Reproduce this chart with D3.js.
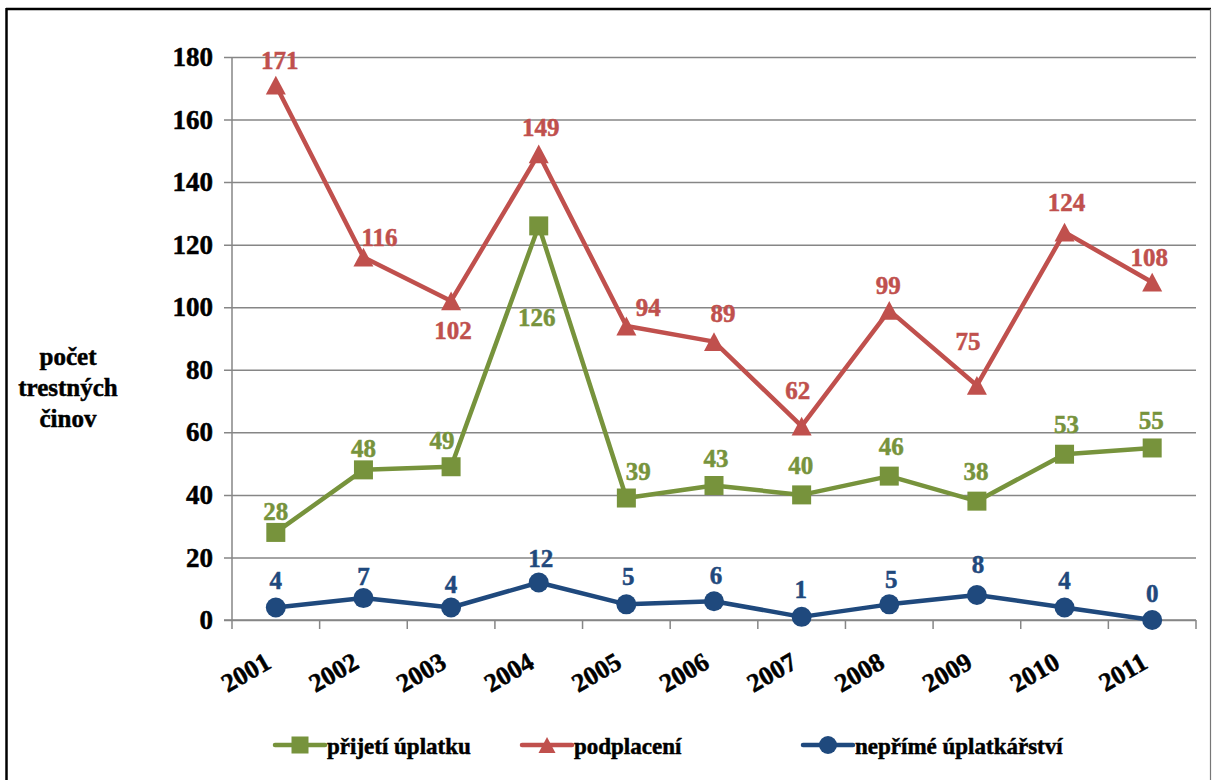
<!DOCTYPE html>
<html lang="cs">
<head>
    <meta charset="utf-8">
    <title>Počet trestných činů</title>
    <style>
        body {
            margin: 0;
            background: #fff;
        }
        text {
            font-family: "Liberation Serif", "Times New Roman", serif;
            font-weight: bold;
            stroke: currentColor;
            stroke-width: 0.5px;
        }
    </style>
</head>
<body>
<svg id="chart"></svg>
<script src="https://cdn.jsdelivr.net/npm/d3@7"></script>
<script>
    // data
    const years = ["2001", "2002", "2003", "2004", "2005", "2006", "2007", "2008", "2009", "2010", "2011"];
    const prijeti = [28, 48, 49, 126, 39, 43, 40, 46, 38, 53, 55];
    const podplaceni = [171, 116, 102, 149, 94, 89, 62, 99, 75, 124, 108];
    const neprime = [4, 7, 4, 12, 5, 6, 1, 5, 8, 4, 0];
    const yTicks = [0, 20, 40, 60, 80, 100, 120, 140, 160, 180];
    const seriesNames = ["přijetí úplatku", "podplacení", "nepřímé úplatkářství"];
    const yTitle = ["počet", "trestných", "činov"];

    // label nudges (label centre relative to point), as placed in the original
    const greenDx = [0, 0, -9, -2, 12, 2, -1, 2, -1, 2, -1];
    const greenDy = [-21, -21, -26, 92, -27, -27, -29, -30, -30, -30, -27];
    const redDx = [4, 16, 2, 2, 22, 9, -4, -1, -9, 2, -3];
    const redDy = [-25, -20, 30, -26, -18, -28, -36, -25, -44, -30, -25];
    const blueDx = [0, 0, 0, 2, 2, 2, -1, 2, 1, 0, 0];
    const blueDy = [-27, -22, -23, -24, -28, -26, -27, -25, -30, -27, -27];

    const W = 1213, H = 780;
    const plot = {left: 232, right: 1196, top: 57, bottom: 620};
    const colors = ["#77933C", "#C0504D", "#1F497D"];
    const gridColor = "#868686";

    const svg = d3.select("#chart").attr("width", W).attr("height", H);

    // frame
    svg.append("line").attr("x1", 6.5).attr("x2", 6.5).attr("y1", 8).attr("y2", H)
        .attr("stroke", "#000").attr("stroke-width", 2.5);
    svg.append("line").attr("x1", 6).attr("x2", 1211).attr("y1", 9).attr("y2", 9)
        .attr("stroke", "#000").attr("stroke-width", 2.5);
    svg.append("line").attr("x1", 1210.5).attr("x2", 1210.5).attr("y1", 9).attr("y2", H)
        .attr("stroke", "#777").attr("stroke-width", 1.2);

    var x = d3.scaleBand().domain(years).range([plot.left, plot.right]);
    var y = d3.scaleLinear().domain([0, 180]).range([plot.bottom, plot.top]);
    const cx = d => x(d) + x.bandwidth() / 2;

    // gridlines + y axis
    var yAxis = d3.axisLeft(y).tickValues(yTicks).tickSize(-(plot.right - plot.left)).tickPadding(19).tickFormat(d3.format("d"));
    var gy = svg.append("g").attr("transform", "translate(" + plot.left + ",0)").call(yAxis);
    gy.select(".domain").remove();
    gy.selectAll(".tick line").attr("x1", -8).attr("stroke", gridColor).attr("stroke-width", 1.5);
    gy.selectAll(".tick text").attr("font-size", 27).attr("fill", "#000").style("color", "#000");
    svg.append("line").attr("x1", plot.left).attr("x2", plot.left).attr("y1", plot.top).attr("y2", plot.bottom)
        .attr("stroke", gridColor).attr("stroke-width", 1.5);

    // x axis: ticks on band edges
    var gx = svg.append("g").attr("transform", "translate(0," + plot.bottom + ")");
    gx.append("line").attr("x1", plot.left - 8).attr("x2", plot.right).attr("stroke", gridColor).attr("stroke-width", 1.5);
    gx.selectAll(".edge").data(years.concat(["end"])).enter().append("line")
        .attr("x1", (d, i) => i < years.length ? x(d) : plot.right)
        .attr("x2", (d, i) => i < years.length ? x(d) : plot.right)
        .attr("y1", 0).attr("y2", 9).attr("stroke", gridColor).attr("stroke-width", 1.5);
    gx.selectAll(".lab").data(years).enter().append("text")
        .attr("transform", d => "translate(" + (cx(d) - 3) + ",47) rotate(-30)")
        .attr("text-anchor", "end").attr("font-size", 26).attr("fill", "#000").style("color", "#000")
        .text(d => d);

    // y title
    svg.append("text").attr("x", 68).attr("y", 365).attr("text-anchor", "middle")
        .attr("font-size", 25).attr("fill", "#000").style("color", "#000")
        .selectAll("tspan").data(yTitle).enter().append("tspan")
        .attr("x", 68).attr("dy", (d, i) => i ? 31 : 0).text(d => d);

    // markers
    function marker(g, kind, color, s) {
        if (kind === "square") {
            g.append("rect").attr("x", -s / 2).attr("y", -s / 2).attr("width", s).attr("height", s).attr("fill", color);
        } else if (kind === "triangle") {
            g.append("path").attr("d", "M0," + (-s * 0.47) + "L" + (s / 2) + "," + (s * 0.47) + "L" + (-s / 2) + "," + (s * 0.47) + "Z").attr("fill", color);
        } else {
            g.append("circle").attr("r", s / 2).attr("fill", color);
        }
    }

    const series = [
        {name: seriesNames[0], values: prijeti, color: colors[0], kind: "square", dx: greenDx, dy: greenDy},
        {name: seriesNames[1], values: podplaceni, color: colors[1], kind: "triangle", dx: redDx, dy: redDy},
        {name: seriesNames[2], values: neprime, color: colors[2], kind: "circle", dx: blueDx, dy: blueDy}
    ];

    var line = d3.line().x((d, i) => cx(years[i])).y(d => y(d));

    series.forEach(function(s) {
        svg.append("path").datum(s.values).attr("d", line).attr("fill", "none")
            .attr("stroke", s.color).attr("stroke-width", 4.5).attr("stroke-linejoin", "round");
        s.values.forEach(function(v, i) {
            var g = svg.append("g").attr("transform", "translate(" + cx(years[i]) + "," + y(v) + ")");
            marker(g, s.kind, s.color, s.kind === "square" ? 19 : 20);
        });
    });
    // labels drawn after all lines
    series.forEach(function(s) {
        svg.selectAll(null).data(s.values).enter().append("text")
            .attr("x", (d, i) => cx(years[i]) + s.dx[i])
            .attr("y", (d, i) => y(d) + s.dy[i] + 8.5)
            .attr("text-anchor", "middle").attr("font-size", 25).attr("fill", s.color).style("color", s.color)
            .text(d => d);
    });

    // legend
    const legendX = [275, 522, 803];
    series.forEach(function(s, i) {
        var g = svg.append("g").attr("transform", "translate(" + legendX[i] + ",745)");
        g.append("line").attr("x1", 0).attr("x2", 50).attr("stroke", s.color)
            .attr("stroke-width", 4.5).attr("stroke-linecap", "round");
        var m = g.append("g").attr("transform", "translate(25,0)");
        marker(m, s.kind, s.color, s.kind === "circle" ? 18 : 17);
        g.append("text").attr("x", 52).attr("y", 9).attr("font-size", 23).attr("fill", "#000").style("color", "#000").text(s.name);
    });
</script>
</body>
</html>
